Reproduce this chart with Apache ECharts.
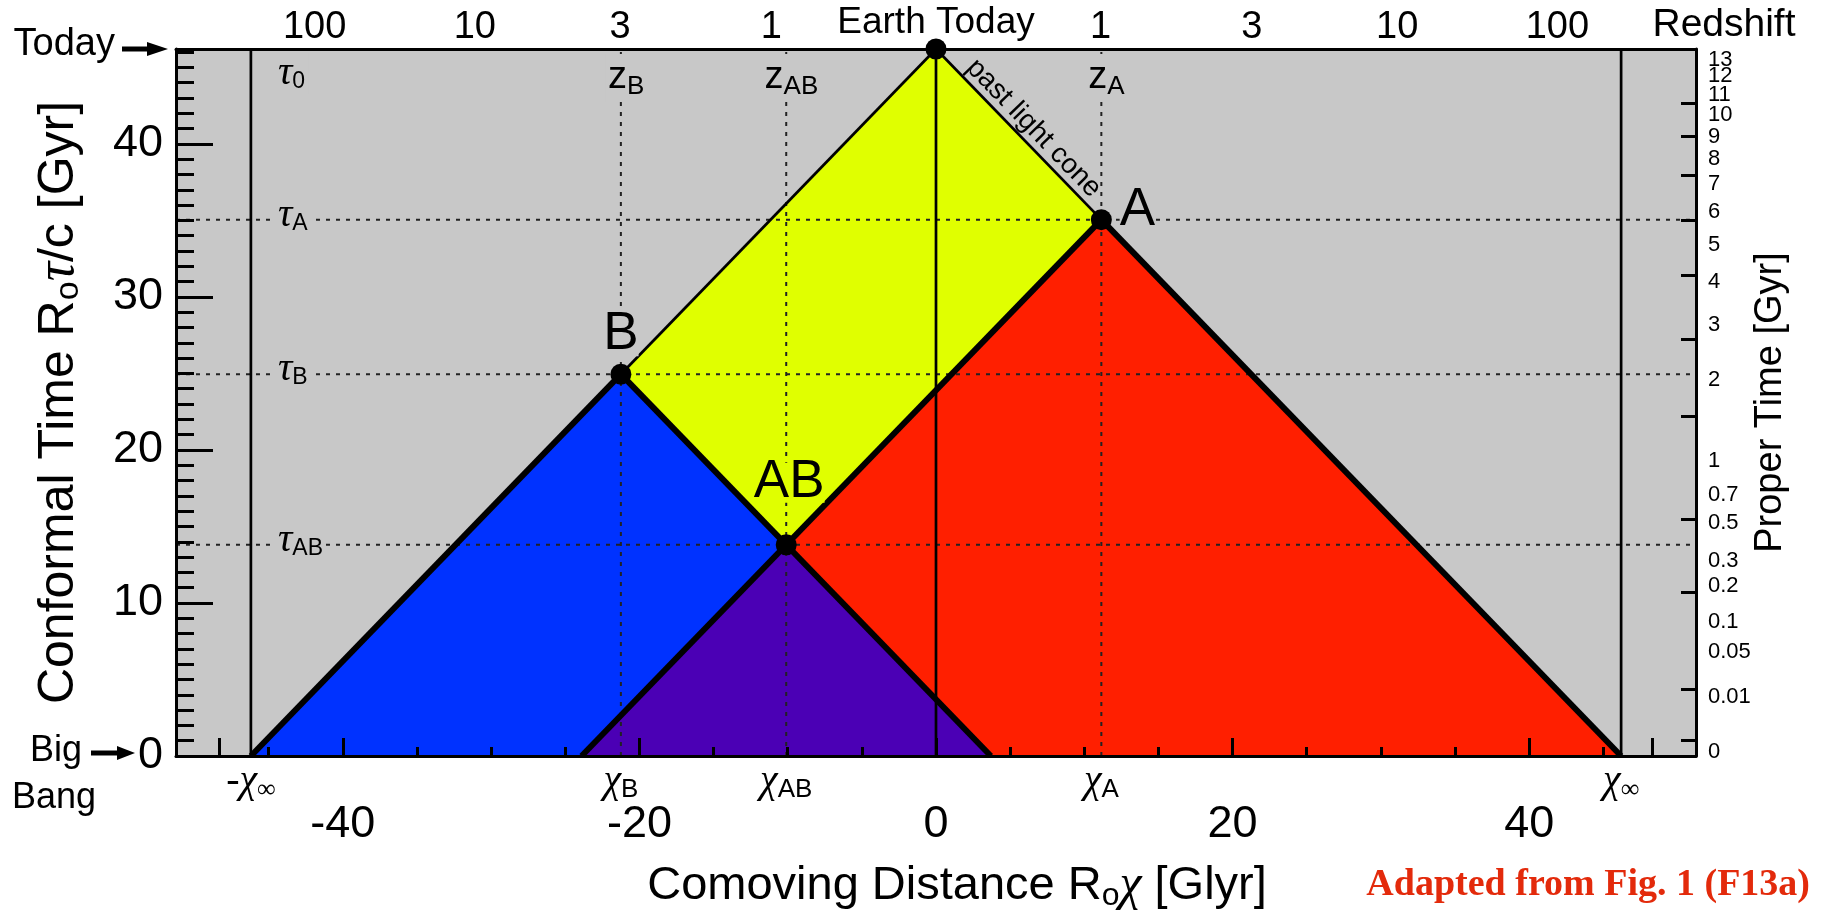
<!DOCTYPE html>
<html><head><meta charset="utf-8">
<script src="https://cdn.jsdelivr.net/npm/echarts@6/dist/echarts.min.js"></script>
<style>html,body{margin:0;padding:0;background:#fff}#c{width:1830px;height:914px}</style>
</head><body><div id="c"></div>
<script>
// ---------------- data ----------------
const tau0 = 46.2;                 // conformal time today (top of plot)
const chiInf = 46.2;               // comoving particle horizon
const earth = [0, 46.2];
const pointA = [11.15, 35.05];
const pointB = [-21.25, 24.95];
const pointAB = [-10.1, 13.8];
const redCone = [[11.15, 35.05], [-23.9, 0], [46.2, 0]];
const blueCone = [[-21.25, 24.95], [-46.2, 0], [3.7, 0]];
const purpleCone = [[-10.1, 13.8], [-23.9, 0], [3.7, 0]];
const yellowRegion = [[0, 46.2], [11.15, 35.05], [-10.1, 13.8], [-21.25, 24.95]];
const xTickLabels = [-40, -20, 0, 20, 40];
const xMajorTicks = [-48.3, -40, -20, 0, 20, 40, 48.3];
const xMinorTicks = [-45, -35, -30, -25, -15, -10, -5, 5, 10, 15, 25, 30, 35, 45];
const yTickLabels = [0, 10, 20, 30, 40];
const yMinorTicks = [1,2,3,4,5,6,7,8,9,11,12,13,14,15,16,17,18,19,21,22,23,24,25,26,27,28,29,31,32,33,34,35,36,37,38,39,41,42,43,44,45,46];
const redshiftLabels = ['100', '10', '3', '1', 'Earth Today', '1', '3', '10', '100'];
const redshiftPos = [-41.9, -31.1, -21.3, -11.1, 0, 11.1, 21.3, 31.1, 41.9];
const properTimeLabels = ['0','0.01','0.05','0.1','0.2','0.3','0.5','0.7','1','2','3','4','5','6','7','8','9','10','11','12','13'];
const properTimePos = [0.28,3.86,6.79,8.74,11.13,12.75,15.24,17.09,19.30,24.59,28.17,30.97,33.40,35.52,37.37,39.04,40.47,41.92,43.22,44.46,45.46];
const properTimeTicks = [1.0, 4.34, 10.69, 15.46, 22.19, 27.24, 31.44, 34.98, 37.95, 40.47, 42.68];
// ------------------------------------------------------------

const SANS = 'Liberation Sans';
const SERIF = 'Liberation Serif';
const GREY = '#c8c8c8';
const XMIN = -51.25, XMAX = 51.25;

function lookup(vals, labels, v) {
  let best = 0, d = Infinity;
  vals.forEach((p, i) => { const e = Math.abs(p - v); if (e < d) { d = e; best = i; } });
  return labels[best];
}

const regions = [
  { pts: redCone, color: '#ff1f00' },
  { pts: blueCone, color: '#0032ff' },
  { pts: purpleCone, color: '#4b00b5' },
  { pts: yellowRegion, color: '#e0ff00' }
];

const thickSegs = [[[-chiInf, 0], pointB], [pointB, blueCone[2]], [pointA, redCone[1]], [pointA, [chiInf, 0]]];
const thinSegs = [[earth, pointA], [earth, pointB], [[0, 0], earth], [[-chiInf, 0], [-chiInf, tau0]], [[chiInf, 0], [chiInf, tau0]]];
const dotSegs = [
  [[XMIN, pointA[1]], [XMAX, pointA[1]]],
  [[XMIN, pointB[1]], [XMAX, pointB[1]]],
  [[XMIN, pointAB[1]], [XMAX, pointAB[1]]],
  [[pointB[0], 0], [pointB[0], tau0]],
  [[pointAB[0], 0], [pointAB[0], tau0]],
  [[pointA[0], 0], [pointA[0], tau0]]
];
function segSeries(segs, width, type, z) {
  return segs.map(s => ({
    type: 'line', data: s, symbol: 'none', silent: true, z: z,
    xAxisIndex: 0, yAxisIndex: 0,
    lineStyle: { color: type === 'solid' ? '#000' : '#222', width: width, type: type, opacity: 1 }
  }));
}

// label positions (layout offsets only)
const tauLabelVals = [pointAB[1] + 0.3, pointB[1] + 0.3, pointA[1] + 0.3, tau0 - 1.6];
const tauLabelSubs = ['AB', 'B', 'A', '0'];
const zLabelVals = [pointB[0] + 0.35, pointAB[0] + 0.35, pointA[0] + 0.35];
const zLabelSubs = ['B', 'AB', 'A'];
const chiLabelVals = [-chiInf, pointB[0], pointAB[0], pointA[0], chiInf];
const chiLabelText = ['{c|-χ}{i|∞}', '{c|χ}{s|B}', '{c|χ}{s|AB}', '{c|χ}{s|A}', '{c|χ}{i|∞}'];
// right-axis labels split over two overlapping axes so close labels are never dropped
const ptPosEven = properTimePos.filter((_, i) => i % 2 === 0);
const ptPosOdd = properTimePos.filter((_, i) => i % 2 === 1);

const chart = echarts.init(document.getElementById('c'), null, { renderer: 'canvas' });
const baseAxis = { type: 'value', min: XMIN, max: XMAX, splitLine: { show: false } };
const baseY = { type: 'value', min: 0, max: tau0, splitLine: { show: false } };

function rightLabelAxis(vals, withLine) {
  return Object.assign({}, baseY, {
    position: 'right', z: 5,
    axisLine: { show: withLine, onZero: false, lineStyle: { color: '#000', width: 3 } },
    axisTick: withLine ? { show: true, inside: true, length: 15, customValues: properTimeTicks, lineStyle: { color: '#000', width: 3 } } : { show: false },
    axisLabel: { show: true, customValues: vals, fontSize: 22, lineHeight: 14, margin: 12, color: '#000', fontFamily: SANS, hideOverlap: false, showMinLabel: true, showMaxLabel: true,
      formatter: v => lookup(properTimePos, properTimeLabels, v) },
    name: withLine ? 'Proper Time [Gyr]' : '', nameLocation: 'middle', nameGap: 56, nameMoveOverlap: false,
    nameTextStyle: { fontSize: 38, fontFamily: SANS, color: '#000' }
  });
}

chart.setOption({
  animation: false,
  textStyle: { fontFamily: SANS, color: '#000' },
  grid: { left: 176, right: 134, top: 49, bottom: 158, show: true, backgroundColor: GREY, borderWidth: 0, outerBoundsMode: 'none', containLabel: false },
  xAxis: [
    Object.assign({}, baseAxis, {
      position: 'bottom', z: 5,
      axisLine: { show: true, onZero: false, lineStyle: { color: '#000', width: 3 } },
      axisTick: { show: true, inside: true, length: 18, customValues: xMajorTicks, lineStyle: { color: '#000', width: 3 } },
      axisLabel: { show: true, customValues: xTickLabels, fontSize: 45, margin: 46, color: '#000', fontFamily: SANS, hideOverlap: false, showMinLabel: true, showMaxLabel: true },
      name: 'Comoving Distance R{o|o}{c|χ} [Glyr]', nameLocation: 'middle', nameGap: 104, nameMoveOverlap: false,
      nameTextStyle: { fontSize: 47, fontFamily: SANS, color: '#000', lineHeight: 52, padding: [0, 0, 0, 42],
        rich: { o: { fontSize: 32, lineHeight: 30, verticalAlign: 'bottom', fontFamily: SANS, color: '#000' },
                c: { fontSize: 50, lineHeight: 52, fontStyle: 'italic', fontFamily: SERIF, color: '#000' } } }
    }),
    Object.assign({}, baseAxis, {
      position: 'top', z: 5,
      axisLine: { show: true, onZero: false, lineStyle: { color: '#000', width: 3 } },
      axisTick: { show: false },
      axisLabel: { show: true, customValues: redshiftPos, fontSize: 38, margin: 2, color: '#000', fontFamily: SANS, hideOverlap: false, showMinLabel: true, showMaxLabel: true,
        formatter: v => { const t = lookup(redshiftPos, redshiftLabels, v); return t === 'Earth Today' ? '{e|Earth Today}' : t; },
        rich: { e: { fontSize: 37, padding: [0, 0, 6, 0], fontFamily: SANS, color: '#000' } } }
    }),
    Object.assign({}, baseAxis, {
      position: 'bottom', z: 5,
      axisLine: { show: false, onZero: false }, axisTick: { show: false },
      axisLabel: { show: true, customValues: chiLabelVals, margin: 3, hideOverlap: false, showMinLabel: true, showMaxLabel: true,
        formatter: v => lookup(chiLabelVals, chiLabelText, v),
        rich: { c: { fontSize: 40, lineHeight: 44, fontStyle: 'italic', fontFamily: SERIF, color: '#000' },
                s: { fontSize: 26, lineHeight: 16, verticalAlign: 'bottom', fontFamily: SANS, color: '#000' },
                i: { fontSize: 26, lineHeight: 14, verticalAlign: 'bottom', fontFamily: SERIF, color: '#000' } } }
    }),
    Object.assign({}, baseAxis, {
      position: 'bottom', z: 5,
      axisLine: { show: false, onZero: false },
      axisTick: { show: true, inside: true, length: 9, customValues: xMinorTicks, lineStyle: { color: '#000', width: 3 } },
      axisLabel: { show: false }
    }),
    Object.assign({}, baseAxis, {
      position: 'top', z: 6,
      axisLine: { show: false, onZero: false }, axisTick: { show: false },
      axisLabel: { show: true, inside: true, customValues: zLabelVals, margin: 5, hideOverlap: false, showMinLabel: true, showMaxLabel: true,
        backgroundColor: GREY, padding: [2, 2],
        formatter: v => '{z|z}{s|' + lookup(zLabelVals, zLabelSubs, v) + '}',
        rich: { z: { fontSize: 38, lineHeight: 44, fontFamily: SANS, color: '#000' },
                s: { fontSize: 26, lineHeight: 14, verticalAlign: 'bottom', fontFamily: SANS, color: '#000' } } }
    })
  ],
  yAxis: [
    Object.assign({}, baseY, {
      position: 'left', z: 5,
      axisLine: { show: true, onZero: false, lineStyle: { color: '#000', width: 3 } },
      axisTick: { show: true, inside: true, length: 37, customValues: yTickLabels, lineStyle: { color: '#000', width: 3 } },
      axisLabel: { show: true, customValues: yTickLabels, fontSize: 45, margin: 13, color: '#000', fontFamily: SANS, hideOverlap: false, showMinLabel: true, showMaxLabel: true },
      name: 'Conformal Time R{o|o}{t|τ}/c [Gyr]', nameLocation: 'middle', nameGap: 90, nameMoveOverlap: false,
      nameTextStyle: { fontSize: 50, fontFamily: SANS, color: '#000', lineHeight: 54,
        rich: { o: { fontSize: 34, lineHeight: 30, verticalAlign: 'bottom', fontFamily: SANS, color: '#000' },
                t: { fontSize: 54, lineHeight: 54, fontStyle: 'italic', fontFamily: SERIF, color: '#000' } } }
    }),
    rightLabelAxis(ptPosEven, true),
    Object.assign({}, baseY, {
      position: 'left', z: 6,
      axisLine: { show: false, onZero: false }, axisTick: { show: false },
      axisLabel: { show: true, inside: true, customValues: tauLabelVals, margin: 99, hideOverlap: false, showMinLabel: true, showMaxLabel: true,
        backgroundColor: GREY, padding: [0, 3],
        formatter: v => '{t|τ}{s|' + lookup(tauLabelVals, tauLabelSubs, v) + '}',
        rich: { t: { fontSize: 40, lineHeight: 40, fontStyle: 'italic', fontFamily: SERIF, color: '#000' },
                s: { fontSize: 23, lineHeight: 14, verticalAlign: 'bottom', fontFamily: SANS, color: '#000' } } }
    }),
    Object.assign({}, baseY, {
      position: 'left', z: 5,
      axisLine: { show: false, onZero: false },
      axisTick: { show: true, inside: true, length: 18, customValues: yMinorTicks, lineStyle: { color: '#000', width: 3 } },
      axisLabel: { show: false }
    }),
    rightLabelAxis(ptPosOdd, false)
  ],
  graphic: [
    { type: 'text', x: 115, y: 45, style: { text: 'Today', fill: '#000', fontSize: 38, fontFamily: SANS, align: 'right', verticalAlign: 'middle' } },
    { type: 'line', shape: { x1: 122, y1: 49, x2: 150, y2: 49 }, style: { stroke: '#000', lineWidth: 5 } },
    { type: 'polygon', shape: { points: [[147, 42], [168, 49], [147, 56]] }, style: { fill: '#000' } },
    { type: 'text', x: 30, y: 751, style: { text: 'Big', fill: '#000', fontSize: 36, fontFamily: SANS, align: 'left', verticalAlign: 'middle' } },
    { type: 'text', x: 12, y: 798, style: { text: 'Bang', fill: '#000', fontSize: 36, fontFamily: SANS, align: 'left', verticalAlign: 'middle' } },
    { type: 'line', shape: { x1: 91, y1: 753, x2: 120, y2: 753 }, style: { stroke: '#000', lineWidth: 5 } },
    { type: 'polygon', shape: { points: [[117, 746], [135, 753], [117, 760]] }, style: { fill: '#000' } },
    { type: 'text', x: 1724, y: 25, style: { text: 'Redshift', fill: '#000', fontSize: 39, fontFamily: SANS, align: 'center', verticalAlign: 'middle' } },
    { type: 'text', x: 1810, y: 885, style: { text: 'Adapted from Fig. 1 (F13a)', fill: '#e32a0b', fontSize: 38, fontWeight: 'bold', fontFamily: SERIF, align: 'right', verticalAlign: 'middle' } }
  ],
  series: [
    {
      type: 'custom', coordinateSystem: 'cartesian2d', xAxisIndex: 0, yAxisIndex: 0, silent: true, z: 1, clip: true,
      data: regions.map(r => r.pts[0]),
      renderItem: (params, api) => {
        const r = regions[params.dataIndex];
        return { type: 'polygon', shape: { points: r.pts.map(p => api.coord(p)) }, style: { fill: r.color } };
      }
    },
    ...segSeries(dotSegs, 2, [4, 6], 2),
    ...segSeries(thinSegs, 2.7, 'solid', 3),
    ...segSeries(thickSegs, 6, 'solid', 3),
    {
      type: 'scatter', xAxisIndex: 0, yAxisIndex: 0, z: 10, silent: true, clip: false,
      symbol: 'circle', symbolSize: 21, itemStyle: { color: '#000', opacity: 1 },
      data: [
        { value: earth },
        { value: pointA, label: { show: true, formatter: 'A', position: 'inside', offset: [36, -9], fontSize: 53, fontFamily: SANS, color: '#000', opacity: 1, backgroundColor: GREY, lineHeight: 44 } },
        { value: pointB, label: { show: true, formatter: 'B', position: 'inside', offset: [0, -40], fontSize: 53, fontFamily: SANS, color: '#000', opacity: 1, backgroundColor: GREY, lineHeight: 44 } },
        { value: pointAB, label: { show: true, formatter: 'AB', position: 'inside', offset: [3, -62], fontSize: 53, fontFamily: SANS, color: '#000', opacity: 1, backgroundColor: '#e0ff00', lineHeight: 40 } }
      ]
    },
    {
      type: 'scatter', xAxisIndex: 0, yAxisIndex: 0, z: 9, silent: true, symbolSize: 0, itemStyle: { opacity: 1 },
      data: [{ value: [(earth[0] + pointA[0]) / 2, (earth[1] + pointA[1]) / 2],
        label: { show: true, formatter: 'past light cone', position: 'inside', offset: [6, -15], rotate: -46, fontSize: 28, fontFamily: SANS, color: '#000', opacity: 1 } }]
    }
  ]
});
</script></body></html>
